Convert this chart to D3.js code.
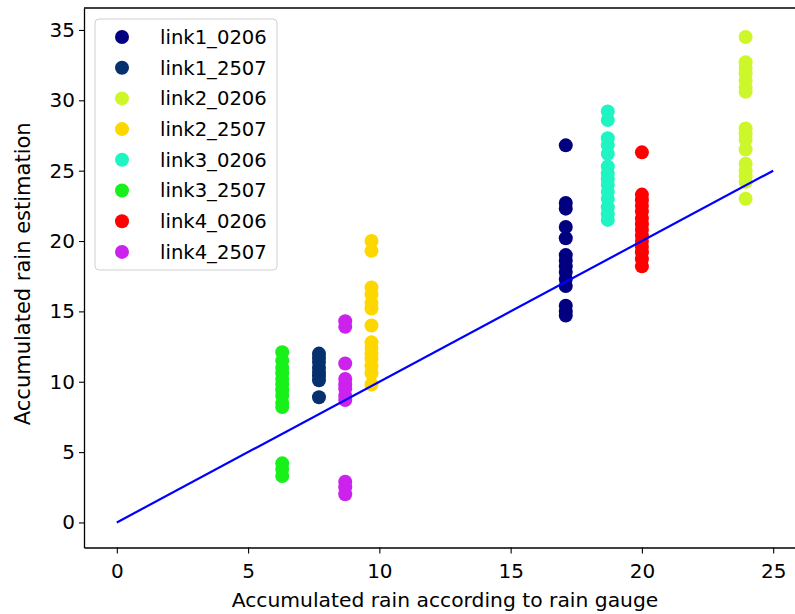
<!DOCTYPE html>
<html>
<head>
<meta charset="utf-8">
<script src="https://cdn.jsdelivr.net/npm/d3@7"></script>
<style>
  html, body { margin: 0; padding: 0; background: #fff; }
  svg { display: block; font-family: "DejaVu Sans", sans-serif; }
</style>
</head>
<body>
<svg id="chart" width="795" height="614"></svg>
<script>
// ---- data ----
const seriesNames = ["link1_0206", "link1_2507", "link2_0206", "link2_2507",
                     "link3_0206", "link3_2507", "link4_0206", "link4_2507"];
const seriesColors = ["#000080", "#06306e", "#cdf72a", "#ffd700",
                      "#1ff5c2", "#18f01a", "#ff0000", "#cc22ee"];
const gaugeValues = [17.1, 7.7, 23.95, 9.7, 18.7, 6.3, 20.0, 8.7];

const link1_0206 = [26.8, 22.7, 22.3, 21.0, 20.2, 19.0, 18.6, 18.2, 17.8, 17.3, 16.8, 15.4, 15.0, 14.7];
const link1_2507 = [12.0, 11.7, 11.4, 11.0, 10.7, 10.4, 10.1, 8.9];
const link2_0206 = [34.5, 32.7, 32.3, 31.9, 31.4, 30.9, 30.6, 28.0, 27.6, 27.2, 26.5, 25.5, 25.0, 24.6, 24.2, 23.0];
const link2_2507 = [20.0, 19.3, 16.7, 16.2, 15.6, 15.2, 14.0, 12.8, 12.4, 12.0, 11.6, 11.1, 10.6, 9.8];
const link3_0206 = [29.2, 28.6, 27.3, 26.8, 26.2, 25.3, 24.8, 24.4, 24.0, 23.5, 23.0, 22.4, 21.9, 21.5];
const link3_2507 = [12.1, 11.5, 11.0, 10.6, 10.2, 9.8, 9.4, 9.0, 8.5, 8.2, 4.2, 3.8, 3.3];
const link4_0206 = [26.3, 23.3, 22.9, 22.5, 22.1, 21.6, 21.2, 20.8, 20.4, 20.0, 19.6, 19.2, 18.7, 18.2];
const link4_2507 = [14.3, 13.9, 11.3, 10.2, 9.8, 9.5, 9.0, 8.7, 2.9, 2.5, 2.0];
const seriesValues = [link1_0206, link1_2507, link2_0206, link2_2507,
                      link3_0206, link3_2507, link4_0206, link4_2507];

const refLine = [[0, 0], [25, 25]];
const xTicks = [0, 5, 10, 15, 20, 25];
const yTicks = [0, 5, 10, 15, 20, 25, 30, 35];
const xLabel = "Accumulated rain according to rain gauge";
const yLabel = "Accumulated rain estimation";

// ---- layout ----
const svg = d3.select("#chart");
const mLeft = 84, mRight = 806, mTop = 8, mBottom = 547.5;
const x = d3.scaleLinear().domain([-1.25, 26.25]).range([mLeft, mRight]);
const y = d3.scaleLinear().domain([-1.78, 36.56]).range([mBottom, mTop]);

svg.append("defs").append("clipPath").attr("id", "clip")
  .append("rect").attr("x", mLeft).attr("y", mTop).attr("width", mRight - mLeft).attr("height", mBottom - mTop);

const plot = svg.append("g").attr("clip-path", "url(#clip)");

// points
seriesValues.forEach((vals, i) => {
  plot.append("g").selectAll("circle").data(vals).join("circle")
    .attr("cx", x(gaugeValues[i]))
    .attr("cy", d => y(d))
    .attr("r", 7)
    .attr("fill", seriesColors[i]);
});

// reference line
plot.append("path")
  .datum(refLine)
  .attr("d", d3.line().x(d => x(d[0])).y(d => y(d[1])))
  .attr("stroke", "#0000ff").attr("stroke-width", 2.2).attr("fill", "none");

// axes
const xAxis = svg.append("g").attr("transform", `translate(0,${mBottom})`)
  .call(d3.axisBottom(x).tickValues(xTicks).tickSize(6).tickPadding(10).tickSizeOuter(0));
const yAxis = svg.append("g").attr("transform", `translate(${mLeft},0)`)
  .call(d3.axisLeft(y).tickValues(yTicks).tickSize(5).tickPadding(4).tickSizeOuter(0));
[xAxis, yAxis].forEach(a => {
  a.select(".domain").attr("stroke", "#000").attr("stroke-width", 1.3);
  a.selectAll(".tick line").attr("stroke", "#000").attr("stroke-width", 1.1);
  a.selectAll(".tick text").attr("fill", "#000").style("font-size", "20px")
    .style("font-family", "'DejaVu Sans', sans-serif");
});
// top spine
svg.append("line").attr("x1", mLeft).attr("x2", mRight).attr("y1", mTop).attr("y2", mTop)
  .attr("stroke", "#000").attr("stroke-width", 1.3);

// axis labels
svg.append("text").attr("x", (x(0) + x(25)) / 2).attr("y", 607)
  .attr("text-anchor", "middle").style("font-size", "20.3px").text(xLabel);
svg.append("text").attr("transform", `translate(30,${(mTop + mBottom) / 2 - 4}) rotate(-90)`)
  .attr("text-anchor", "middle").style("font-size", "21px").text(yLabel);

// legend
const lg = svg.append("g");
lg.append("rect").attr("x", 95).attr("y", 19).attr("width", 182).attr("height", 251)
  .attr("rx", 4).attr("fill", "#fff").attr("fill-opacity", 0.8)
  .attr("stroke", "#d0d0d0").attr("stroke-width", 1);
seriesNames.forEach((name, i) => {
  const yy = 37 + i * 30.7;
  lg.append("circle").attr("cx", 122).attr("cy", yy).attr("r", 7).attr("fill", seriesColors[i]);
  lg.append("text").attr("x", 160).attr("y", yy).attr("dy", "0.35em")
    .style("font-size", "19.6px").text(name);
});
</script>
</body>
</html>
